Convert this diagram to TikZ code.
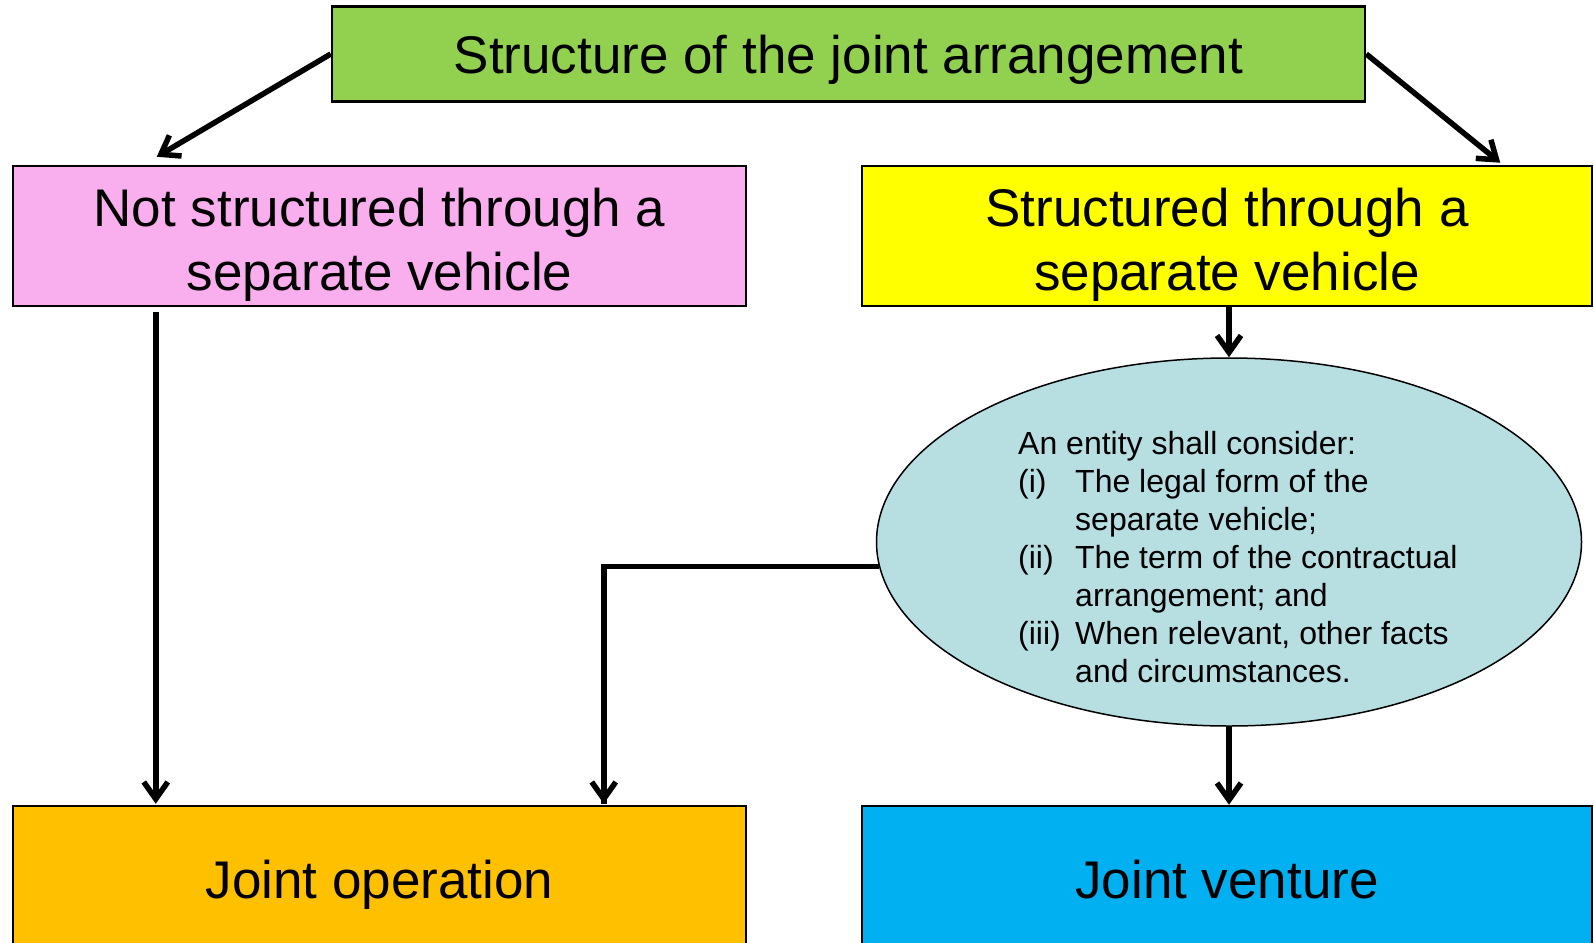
\documentclass[tikz,border=0pt]{standalone}
\usepackage{fontspec}
\setmainfont{Liberation Sans}
\usetikzlibrary{shapes.geometric,arrows.meta,calc}
\definecolor{cgreen}{HTML}{92D050}
\definecolor{cpink}{HTML}{F9AFEE}
\definecolor{cyellow}{HTML}{FFFF00}
\definecolor{corange}{HTML}{FFC000}
\definecolor{cblue}{HTML}{00B0F0}
\definecolor{cell}{HTML}{B7DFE2}
\begin{document}
\begin{tikzpicture}[x=1pt,y=-1pt,
  box/.style={draw=black,line width=2.5pt,rectangle,inner sep=0pt},
  txt/.style={inner sep=0pt,align=center,font=\fontsize{53}{64}\selectfont},
  arr/.style={line width=5.5pt,-{Straight Barb[length=17pt,width=24pt]}}]
\useasboundingbox (0,0) rectangle (1594,942);
\node[box,fill=cgreen,minimum width=1033pt,minimum height=95pt] (top) at (848.5,54) {};
\node[box,fill=cpink,minimum width=733pt,minimum height=140pt] (pink) at (379.5,236) {};
\node[box,fill=cyellow,minimum width=730pt,minimum height=140pt] (yellow) at (1227,236) {};
\node[box,fill=corange,minimum width=733pt,minimum height=146pt] (jo) at (379.5,879) {};
\node[box,fill=cblue,minimum width=730pt,minimum height=146pt] (jv) at (1227,879) {};
\node[txt] (toptext) at ($(top)+(0,6)$) {Structure of the joint arrangement};
\node[txt] (pinktext) at ($(pink)+(0,9)$) {Not structured through a\\separate vehicle};
\node[txt] (yellowtext) at ($(yellow)+(0,9)$) {Structured through a\\separate vehicle};
\node[txt,anchor=base] (jotext) at ($(jo)+(0,19)$) {Joint operation};
\node[txt,anchor=base] (jvtext) at ($(jv)+(0,19)$) {Joint venture};
\node[draw=black,line width=1.5pt,fill=cell,ellipse,minimum width=705pt,minimum height=368pt,inner sep=0pt] (ell) at (1229,542) {};
\node[anchor=north west,inner sep=0pt,font=\fontsize{32}{38}\selectfont] (etext) at (1018,428) {%
\begin{tabular}{@{}p{57pt}@{}l@{}}
\multicolumn{2}{@{}l@{}}{An entity shall consider:}\\
(i) & The legal form of the\\
 & separate vehicle;\\
(ii) & The term of the contractual\\
 & arrangement; and\\
(iii) & When relevant, other facts\\
 & and circumstances.
\end{tabular}};
\draw[arr] (top.west) -- ($(pink.north west)+(145,-8)$);
\draw[arr] (top.east) -- ($(yellow.north east)+(-93,-2)$);
\draw[arr] (yellow.south -| ell.north) -- (ell.north);
\draw[arr] ($(pink.south west)+(144,5)$) -- ($(jo.north west)+(144,-1)$);
\draw[line width=5.5pt] (ell.184) -| ($(jo.north west)+(592,-1)$) coordinate (jotip);
\draw[arr] ($(jo.north west)+(592,-220)$) -- (jotip);
\draw[arr] (ell.south) -- (ell.south |- jv.north);
\end{tikzpicture}
\end{document}
